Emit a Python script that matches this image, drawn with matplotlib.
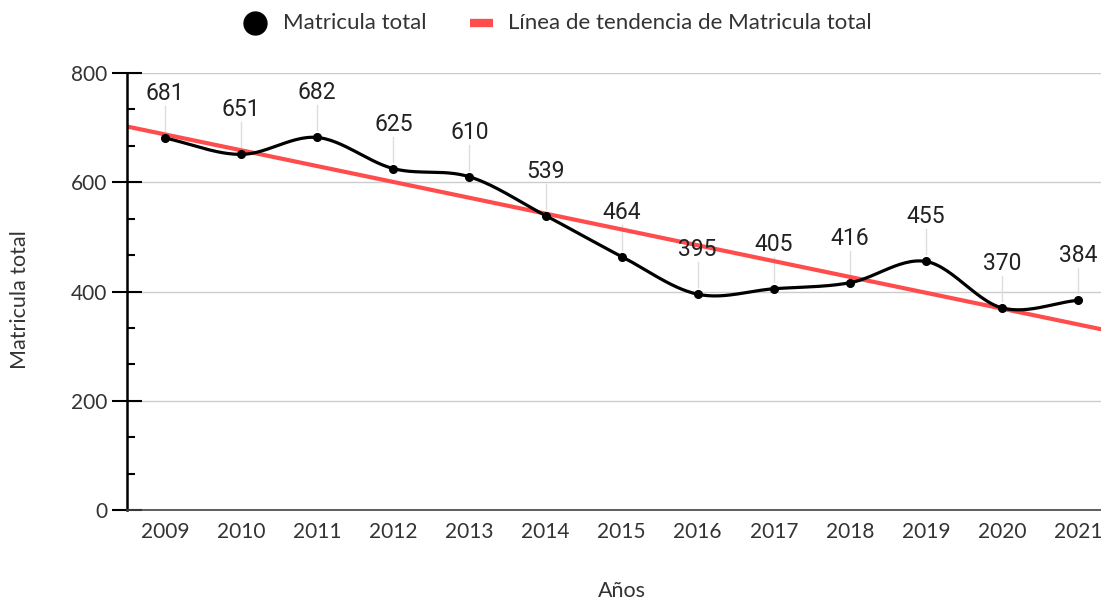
import numpy as np
import matplotlib.pyplot as plt
from matplotlib.lines import Line2D

# Données
annees = [2009, 2010, 2011, 2012, 2013, 2014, 2015, 2016, 2017, 2018, 2019, 2020, 2021]
matricula = [681, 651, 682, 625, 610, 539, 464, 395, 405, 416, 455, 370, 384]
yticks = [0, 200, 400, 600, 800]

x = np.array(annees, dtype=float)
y = np.array(matricula, dtype=float)

# Courbe lissée (Hermite avec tangentes de type Catmull-Rom)
def lisser(x, y, n=30):
    m = np.zeros_like(y)
    m[1:-1] = (y[2:] - y[:-2]) / (x[2:] - x[:-2])
    m[0] = (y[1] - y[0]) / (x[1] - x[0])
    m[-1] = (y[-1] - y[-2]) / (x[-1] - x[-2])
    xs, ys = [], []
    for i in range(len(x) - 1):
        h = x[i + 1] - x[i]
        t = np.linspace(0, 1, n)
        h00 = 2*t**3 - 3*t**2 + 1
        h10 = t**3 - 2*t**2 + t
        h01 = -2*t**3 + 3*t**2
        h11 = t**3 - t**2
        xs.append(x[i] + t*h)
        ys.append(h00*y[i] + h10*h*m[i] + h01*y[i+1] + h11*h*m[i+1])
    return np.concatenate(xs), np.concatenate(ys)

xs, ys = lisser(x, y)

# Ligne de tendance (régression linéaire)
pente, ordonnee = np.polyfit(x, y, 1)
xlim = (2008.5, 2021.3)
xt = np.array(xlim)
yt = pente * xt + ordonnee

gris = "#333333"
police = "Lato"

fig = plt.figure(figsize=(11.01, 6), dpi=100)
ax = fig.add_axes([127/1101, 90/600, 1 - 127/1101, 437/600])

ax.plot(xt, yt, color="#ff4d4d", linewidth=3, zorder=2)
ax.plot(xs, ys, color="black", linewidth=2.3, zorder=3)
ax.plot(x, y, "o", color="black", markersize=5.5, zorder=4)

# Annotations avec tiges
px_to_data = 800 / 437
for xi, yi in zip(x, y):
    ax.plot([xi, xi], [yi + 7*px_to_data, yi + 32*px_to_data], color="#dddddd", linewidth=1, zorder=1)
    ax.text(xi, yi + 33*px_to_data, str(int(yi)), ha="center", va="bottom",
            fontsize=16.5, family="Roboto", color="#222222")

ax.set_xlim(*xlim)
ax.set_ylim(0, 800)
ax.set_xticks(annees)
ax.set_xticklabels([str(a) for a in annees], family=police, fontsize=15, color=gris)
ax.set_yticks(yticks)
ax.set_yticklabels([str(v) for v in yticks], family=police, fontsize=15, color=gris)
ax.set_yticks(np.arange(0, 800, 200/3), minor=True)
ax.tick_params(axis="x", length=0, pad=9)
ax.tick_params(axis="y", which="major", direction="inout", length=22, width=1.5, pad=3)
ax.tick_params(axis="y", which="minor", direction="in", length=6, width=1.5)

ax.grid(axis="y", color="#cccccc", linewidth=1)
ax.set_axisbelow(True)
for s in ["top", "right"]:
    ax.spines[s].set_visible(False)
ax.spines["left"].set_linewidth(1.8)
ax.spines["left"].set_color("black")
ax.spines["bottom"].set_color("#444444")
ax.spines["bottom"].set_linewidth(1.2)

fig.text(20/1101, 1 - 300/600, "Matricula total", rotation=90, ha="center", va="center",
         family=police, fontsize=15.5, color=gris)
fig.text(622/1101, 1 - 591/600, "Años", ha="center", va="center",
         family=police, fontsize=15.5, color=gris)

# Légende (placée à la main)
fig.add_artist(Line2D([255/1101], [1 - 23/600], marker="o", color="black", markersize=16.5,
                      transform=fig.transFigure))
fig.text(283/1101, 1 - 23/600, "Matricula total", ha="left", va="center",
         family=police, fontsize=16, color=gris)
fig.add_artist(Line2D([470/1101, 493/1101], [1 - 23/600, 1 - 23/600], color="#ff4d4d",
                      linewidth=6, solid_capstyle="butt", transform=fig.transFigure))
fig.text(508/1101, 1 - 23/600, "Línea de tendencia de Matricula total", ha="left", va="center",
         family=police, fontsize=16, color=gris)

fig.savefig("out.png", dpi=100)
